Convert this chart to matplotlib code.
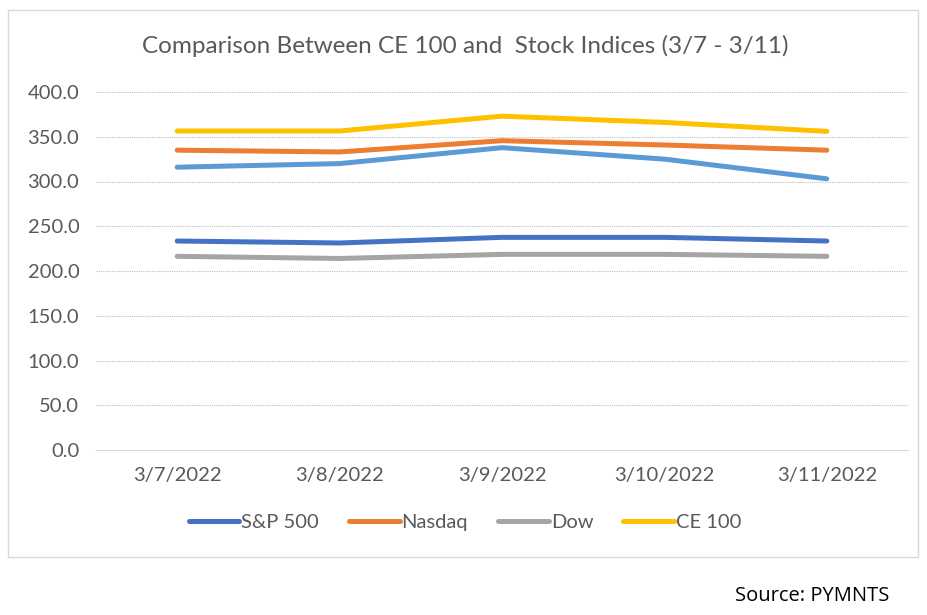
import matplotlib
matplotlib.use("Agg")
import matplotlib.pyplot as plt
from matplotlib.patches import Rectangle

dates = ["3/7/2022", "3/8/2022", "3/9/2022", "3/10/2022", "3/11/2022"]
sp500 = [233.5, 231.3, 237.6, 237.6, 233.5]
nasdaq = [335.0, 333.0, 345.6, 340.8, 335.0]
dow = [216.4, 214.0, 218.6, 218.6, 216.4]
ce100 = [356.4, 356.4, 373.0, 366.0, 356.0]
unlabeled = [316.0, 320.0, 337.8, 325.0, 303.0]
yticks = [0, 50, 100, 150, 200, 250, 300, 350, 400]

plt.rcParams['font.family'] = ['Lato', 'DejaVu Sans']

fig = plt.figure(figsize=(9.27, 6.15), dpi=100)
fig.patch.set_facecolor("white")
# chart border
fig.patches.append(Rectangle((8/927, 1-557/615), 910/927, 547/615, transform=fig.transFigure,
                             fill=False, edgecolor="#D9D9D9", linewidth=1))

ax = fig.add_axes([96/927, 1-450/615, 812/927, 358/615])
x = list(range(len(dates)))
lw = 3.6
ax.plot(x, unlabeled, color="#5B9BD5", linewidth=lw, solid_capstyle="round")
ax.plot(x, sp500, color="#4472C4", linewidth=lw, label="S&P 500", solid_capstyle="round")
ax.plot(x, nasdaq, color="#ED7D31", linewidth=lw, label="Nasdaq", solid_capstyle="round")
ax.plot(x, dow, color="#A5A5A5", linewidth=lw, label="Dow", solid_capstyle="round")
ax.plot(x, ce100, color="#FFC000", linewidth=lw, label="CE 100", solid_capstyle="round")

ax.set_xlim(-0.5, len(dates) - 0.5)
ax.set_ylim(0, 400)
ax.set_yticks(yticks)
ax.set_yticklabels([f"{v:.1f}" for v in yticks])
ax.set_xticks(x)
ax.set_xticklabels(dates)
ax.tick_params(axis="x", length=0, labelsize=14.5, colors="#595959", pad=12)
ax.tick_params(axis="y", length=0, labelsize=14.5, colors="#595959", pad=12)
ax.grid(axis="y", color="#BFBFBF", linestyle=(0, (1, 1)), linewidth=0.8)
ax.set_axisbelow(True)
for s in ["top", "right", "left"]:
    ax.spines[s].set_visible(False)
ax.spines["bottom"].set_color("#D9D9D9")

fig.text(465/927, 1-46/615, "Comparison Between CE 100 and  Stock Indices (3/7 - 3/11)",
         ha="center", va="center", fontsize=17.5, color="#595959")

handles, labels = ax.get_legend_handles_labels()
fig.legend(handles, labels, loc="center", bbox_to_anchor=(465/927, 1-522/615), ncol=4,
           frameon=False, fontsize=14.5, labelcolor="#595959", handlelength=2.5,
           handletextpad=0.1, columnspacing=1.5)

fig.text(812/927, 1-596/615, "Source: PYMNTS", ha="center", va="center", fontsize=14.5,
         color="black", family=["Open Sans", "DejaVu Sans"])

fig.savefig("out.png", dpi=100)
